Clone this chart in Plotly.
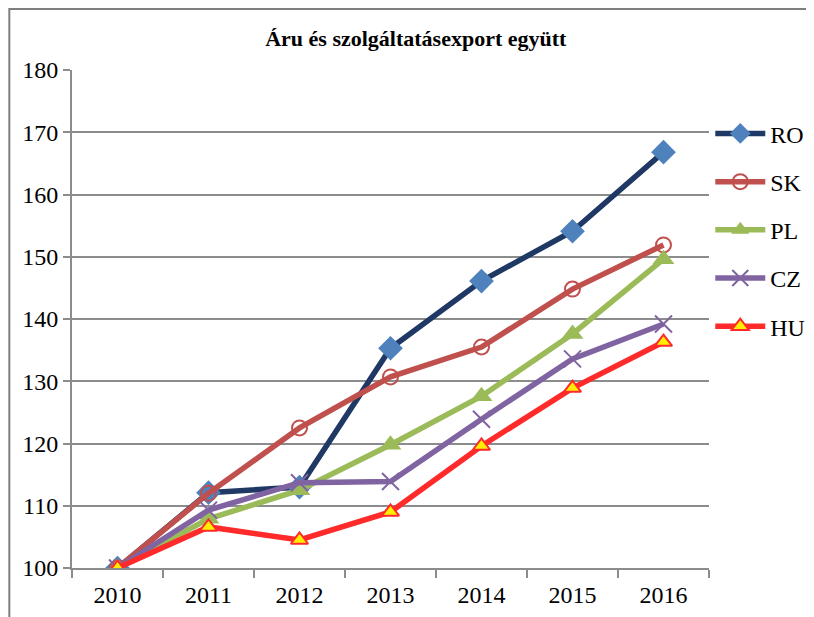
import pandas as pd
import plotly.graph_objects as go

years = ['2010', '2011', '2012', '2013', '2014', '2015', '2016']

# Indexwerte (2010 = 100)
export_index = {
    'RO': [100, 112.1, 113.0, 135.3, 146.1, 154.1, 166.8],
    'SK': [100, 112.0, 122.5, 130.7, 135.5, 144.8, 151.9],
    'PL': [100, 107.9, 112.5, 119.8, 127.6, 137.6, 149.6],
    'CZ': [100, 109.3, 113.7, 113.9, 123.9, 133.6, 139.2],
    'HU': [100, 106.6, 104.5, 109.0, 119.6, 128.9, 136.3],
}

styles = {
    'RO': dict(line='#1F3864', marker=dict(symbol='diamond', size=19, color='#4F81BD')),
    'SK': dict(line='#C0504D', marker=dict(symbol='circle-open', size=15, color='#C0504D',
                                           line=dict(width=2))),
    'PL': dict(line='#9BBB59', marker=dict(symbol='triangle-up', size=19, color='#9BBB59')),
    'CZ': dict(line='#8064A2', marker=dict(symbol='x-thin-open', size=17, color='#8064A2',
                                           line=dict(width=2, color='#8064A2'))),
    'HU': dict(line='#FF2A2A', marker=dict(symbol='triangle-up', size=15, color='#FFEE00',
                                           line=dict(width=2, color='#FF2A2A'))),
}

font_family = 'Liberation Serif, Times New Roman, DejaVu Serif, serif'
grid_color = '#8C8C8C'


def prepare_data(values, index):
    data = pd.DataFrame(values, index=index)
    return data


def create_plotly_figure(data):
    fig = go.Figure()

    for country in data.columns:
        style = styles[country]
        fig.add_trace(go.Scatter(
            x=data.index,
            y=data[country],
            mode='lines+markers',
            name=country,
            legendgroup=country,
            line=dict(color=style['line'], width=5.5),
            marker=style['marker']
        ))

    # Layout anpassen (die Seite hat 8px Rand)
    fig.update_layout(
        width=814,
        height=617,
        paper_bgcolor='white',
        plot_bgcolor='white',
        margin=dict(l=64, r=110, t=62, b=57),
        font=dict(family=font_family, size=24, color='black'),
        title=dict(
            text='<b>Áru és szolgáltatásexport együtt</b>',
            font=dict(family=font_family, size=22, color='black'),
            x=0.501, xref='container', xanchor='center',
            y=0.951, yref='container', yanchor='middle'
        ),
        showlegend=True,
        legend=dict(
            x=1.002, xanchor='left',
            y=0.917, yanchor='top',
            tracegroupgap=14,
            itemwidth=50,
            font=dict(family=font_family, size=24, color='black'),
            bgcolor='rgba(0,0,0,0)'
        ),
        shapes=[dict(
            type='rect', xref='paper', yref='paper',
            x0=-0.0984, x1=1.3, y0=-0.2, y1=1.1225,
            line=dict(color='#7F7F7F', width=2)
        )]
    )

    fig.update_xaxes(
        type='category',
        range=[-0.5, 6.5],
        tickson='boundaries',
        ticks='outside',
        ticklen=8,
        tickwidth=2,
        tickcolor=grid_color,
        showline=True,
        linecolor=grid_color,
        linewidth=2,
        showgrid=False,
        ticklabelstandoff=4
    )

    fig.update_yaxes(
        range=[100, 180],
        dtick=10,
        ticks='outside',
        ticklen=7,
        tickwidth=2,
        tickcolor=grid_color,
        showline=True,
        linecolor=grid_color,
        linewidth=2,
        showgrid=True,
        gridcolor=grid_color,
        gridwidth=2,
        zeroline=False
    )

    return fig


data = prepare_data(export_index, years)
fig = create_plotly_figure(data)
fig.write_html('out.html')
